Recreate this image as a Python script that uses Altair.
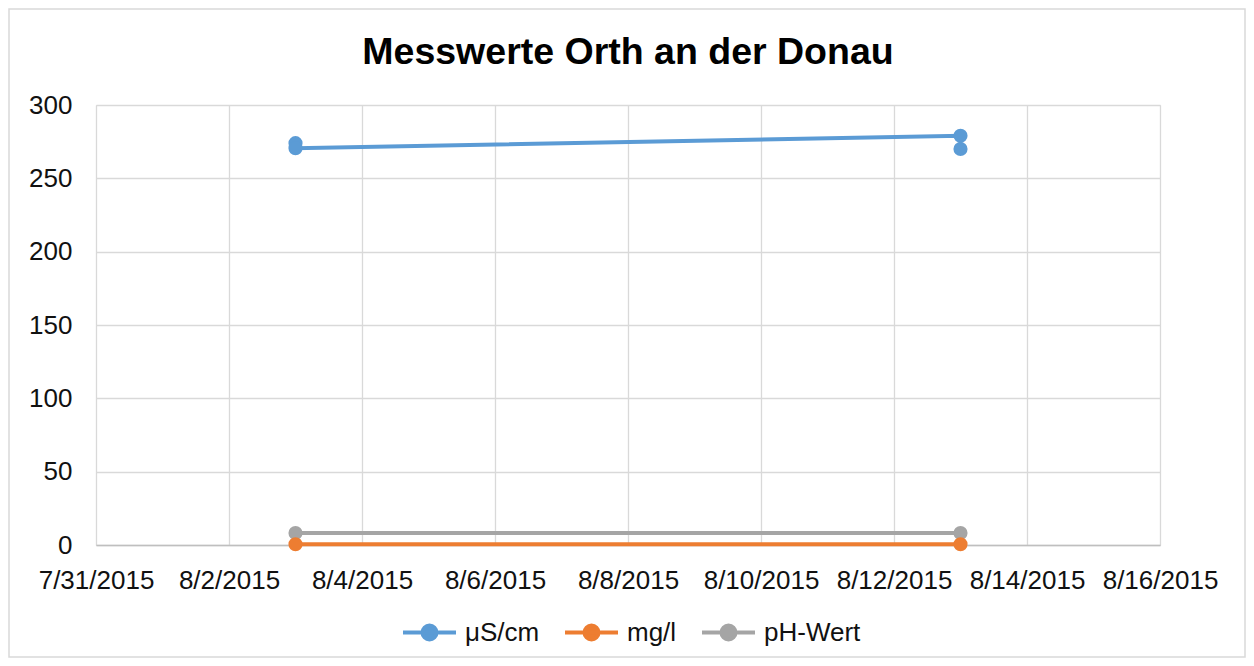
import altair as alt
import pandas as pd

# ---- data ----
series = ["μS/cm", "mg/l", "pH-Wert"]
colors = ["#5b9bd5", "#ed7d31", "#a5a5a5"]

us_dates = ["2015-08-03T00:00:00", "2015-08-03T00:00:00", "2015-08-13T00:00:00", "2015-08-13T00:00:00"]
us_values = [274, 270.5, 279, 270]

mg_dates = ["2015-08-03T00:00:00", "2015-08-13T00:00:00"]
mg_values = [0.5, 0.5]

ph_dates = ["2015-08-03T00:00:00", "2015-08-13T00:00:00"]
ph_values = [8.2, 8.2]

x_tick_days = [31, 2, 4, 6, 8, 10, 12, 14, 16]
x_tick_months = [7, 8, 8, 8, 8, 8, 8, 8, 8]
y_ticks = [0, 50, 100, 150, 200, 250, 300]

# ---- long table (draw order: blue, gray, orange on top) ----
rows = []
order = 0
for name, dates, vals in [("μS/cm", us_dates, us_values),
                          ("pH-Wert", ph_dates, ph_values),
                          ("mg/l", mg_dates, mg_values)]:
    for d, v in zip(dates, vals):
        rows.append({"series": name, "date": d, "value": v, "ord": order})
        order += 1
df = pd.DataFrame(rows)

x_values = [alt.DateTime(year=2015, month=m, date=d) for m, d in zip(x_tick_months, x_tick_days)]

FONT = "Liberation Sans"
W, H = 1064, 440
PAD = {"left": 88, "top": 97, "right": 86, "bottom": 113}

x_enc = alt.X(
    "date:T",
    scale=alt.Scale(domain=[x_values[0], x_values[-1]]),
    axis=alt.Axis(
        values=x_values, format="%-m/%-d/%Y", title=None,
        labelFont=FONT, labelFontSize=26, labelColor="#111111",
        labelPadding=22, tickSize=0, grid=True, gridColor="#d9d9d9", gridWidth=1.3,
        domain=True, domainColor="#bfbfbf", domainWidth=1.5, labelFlush=False,
        labelOverlap=False,
    ),
)
y_enc = alt.Y(
    "value:Q",
    scale=alt.Scale(domain=[0, 300], nice=False),
    axis=alt.Axis(
        values=y_ticks, title=None, labelFont=FONT, labelFontSize=26,
        labelColor="#111111", labelPadding=24, tickSize=0, grid=True,
        gridColor="#d9d9d9", gridWidth=1.3, domain=False,
    ),
)

color_scale = alt.Scale(domain=series, range=colors)

legend = alt.Legend(
    title=None, orient="none", direction="horizontal", legendX=304, legendY=514,
    labelFont=FONT, labelFontSize=26, labelColor="#111111",
    symbolType="M-1,0H4.3M2.35,0A0.7,0.7,0,1,1,0.95,0A0.7,0.7,0,1,1,2.35,0Z",
    symbolSize=400, symbolStrokeWidth=4, labelOffset=39, columnPadding=17,
)

lines = alt.Chart(df).mark_line(strokeWidth=4).encode(
    x=x_enc, y=y_enc,
    color=alt.Color("series:N", scale=color_scale, legend=legend),
    order="ord:Q",
)

points = alt.Chart(df).mark_point(filled=True, size=200, opacity=1, shape="circle").encode(
    x=x_enc, y=y_enc,
    color=alt.Color("series:N", scale=color_scale, legend=legend),
)

frame = alt.Chart(pd.DataFrame({"a": [0]})).mark_rect(
    fill=None, stroke="#d9d9d9", strokeWidth=1.5
).encode(
    x=alt.value(-87), x2=alt.value(W + 85), y=alt.value(-96), y2=alt.value(H + 112)
)

chart = alt.layer(frame, lines, points).properties(
    width=W, height=H, padding=PAD, autosize=alt.AutoSizeParams(type="none"),
    title=alt.Title("Messwerte Orth an der Donau", font=FONT, fontSize=37.5,
                    fontWeight="bold", color="#000000", offset=0, dy=63,
                    anchor="middle", frame="group"),
).configure_view(stroke=None).configure(background="white")

chart.save("out.html", embed_options={"renderer": "svg", "actions": False})
